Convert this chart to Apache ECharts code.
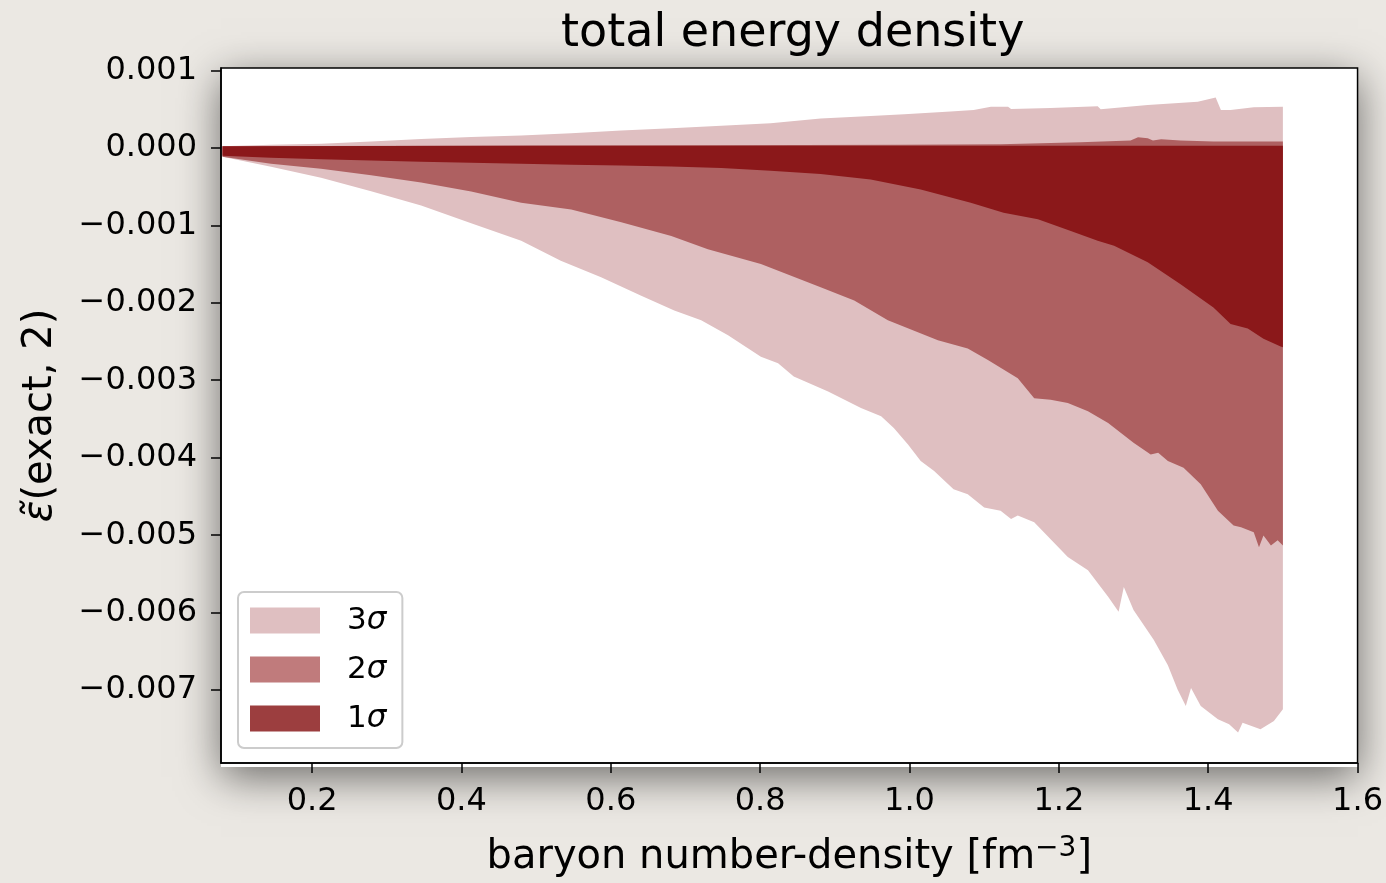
<!DOCTYPE html>
<html>
<head>
<meta charset="utf-8">
<title>total energy density</title>
<script src="https://cdn.jsdelivr.net/npm/echarts@6.0.0/dist/echarts.min.js"></script>
<style>
  html, body { margin: 0; padding: 0; background: #ebe8e3; }
  #myChart { width: 1386px; height: 883px; }
</style>
</head>
<body>
<div id="myChart"></div>
<script>
// tick labels
const xTicks = [0.2, 0.4, 0.6, 0.8, 1.0, 1.2, 1.4, 1.6]
const yTicks = [-0.007, -0.006, -0.005, -0.004, -0.003, -0.002, -0.001, 0.000, 0.001]

// band names
const bandNames = ['3σ', '2σ', '1σ']

// 3 sigma band edges [density, value]
const upper3 = [
  [0.08, 0.00002], [0.145, 0.000038], [0.212, 0.000051], [0.279, 0.000081],
  [0.346, 0.000115], [0.413, 0.000141], [0.48, 0.00016], [0.547, 0.000188],
  [0.614, 0.000224], [0.681, 0.000253], [0.748, 0.000286], [0.814, 0.000317],
  [0.881, 0.000378], [0.948, 0.00041], [0.993, 0.000432], [1.055, 0.000468],
  [1.086, 0.000487], [1.109, 0.00053], [1.132, 0.00053], [1.136, 0.0005],
  [1.189, 0.000513], [1.252, 0.000535], [1.256, 0.000496], [1.319, 0.000551],
  [1.386, 0.000594], [1.41, 0.00065], [1.417, 0.000487], [1.43, 0.000487],
  [1.461, 0.000522], [1.5, 0.00053]
]
const lower3 = [
  [0.08, -0.000115], [0.145, -0.000244], [0.212, -0.000385], [0.279, -0.00056],
  [0.346, -0.000744], [0.413, -0.000974], [0.48, -0.001201], [0.533, -0.001458],
  [0.587, -0.001671], [0.64, -0.001906], [0.685, -0.002099], [0.721, -0.002227],
  [0.757, -0.002419], [0.801, -0.002696], [0.824, -0.002782], [0.845, -0.002953],
  [0.891, -0.003145], [0.935, -0.003359], [0.962, -0.003465], [0.979, -0.003615],
  [0.998, -0.00383], [1.015, -0.004042], [1.033, -0.004171], [1.059, -0.004406],
  [1.078, -0.004471], [1.1, -0.004641], [1.122, -0.004683], [1.136, -0.004791],
  [1.145, -0.004747], [1.167, -0.004833], [1.212, -0.005282], [1.239, -0.005453],
  [1.266, -0.005795], [1.28, -0.005987], [1.287, -0.005667], [1.3, -0.005966],
  [1.327, -0.00635], [1.346, -0.00668], [1.359, -0.006991], [1.37, -0.007205],
  [1.377, -0.006971], [1.39, -0.007205], [1.413, -0.007376], [1.428, -0.00744],
  [1.44, -0.007547], [1.446, -0.007419], [1.47, -0.007504], [1.488, -0.007397],
  [1.5, -0.007247]
]

// 2 sigma band edges
const upper2 = [
  [0.08, 0.00002], [0.346, 0.000026], [0.721, 0.000032], [0.988, 0.000038],
  [1.122, 0.000045], [1.229, 0.000073], [1.296, 0.000094], [1.306, 0.000137],
  [1.319, 0.000124], [1.326, 0.000094], [1.337, 0.000112], [1.363, 0.000094],
  [1.407, 0.000081], [1.5, 0.000081]
]
const lower2 = [
  [0.08, -0.000115], [0.145, -0.000205], [0.212, -0.000269], [0.279, -0.000355],
  [0.346, -0.000449], [0.413, -0.000564], [0.48, -0.000709], [0.547, -0.000795],
  [0.614, -0.000962], [0.681, -0.001137], [0.73, -0.001308], [0.801, -0.0015],
  [0.881, -0.001799], [0.926, -0.001971], [0.971, -0.002227], [1.038, -0.002483],
  [1.078, -0.00259], [1.105, -0.00274], [1.145, -0.002974], [1.167, -0.003231],
  [1.189, -0.003253], [1.212, -0.003295], [1.239, -0.003401], [1.266, -0.003551],
  [1.3, -0.003808], [1.323, -0.003958], [1.333, -0.003936], [1.346, -0.004042],
  [1.367, -0.004128], [1.39, -0.004342], [1.413, -0.004683], [1.434, -0.004876],
  [1.444, -0.004897], [1.461, -0.004962], [1.468, -0.005154], [1.474, -0.005004],
  [1.484, -0.005132], [1.493, -0.005064], [1.5, -0.005132]
]

// 1 sigma band edges
const upper1 = [[0.08, 0.00002], [0.5, 0.000026], [1.5, 0.000026]]
const lower1 = [
  [0.08, -0.000103], [0.145, -0.000128], [0.212, -0.000147], [0.279, -0.000163],
  [0.346, -0.00018], [0.413, -0.000192], [0.48, -0.000205], [0.547, -0.000218],
  [0.614, -0.000227], [0.681, -0.00024], [0.748, -0.00026], [0.814, -0.000295],
  [0.881, -0.000337], [0.948, -0.00041], [1.015, -0.000538], [1.082, -0.000709],
  [1.126, -0.000837], [1.172, -0.000923], [1.216, -0.001073], [1.252, -0.001201],
  [1.274, -0.001265], [1.319, -0.001478], [1.363, -0.00176], [1.407, -0.00206],
  [1.43, -0.002273], [1.453, -0.002333], [1.474, -0.002465], [1.497, -0.002564],
  [1.5, -0.002573]
]

const fillColors = ['#dfbfc1', '#ae6061', '#8b181a']
const legendColors = ['#dfbfc1', '#c07b7c', '#9c3e3f']
const font = 'DejaVu Sans'

// fill_between as a polygon through the axis scales
function bandSeries(name, upper, lower, color) {
  const outline = upper.concat(lower.slice().reverse())
  return {
    name: name,
    type: 'custom',
    coordinateSystem: 'cartesian2d',
    silent: true,
    itemStyle: { color: color },
    data: [upper[0]],
    renderItem: function(params, api) {
      return {
        type: 'polygon',
        shape: { points: outline.map(function(p) { return api.coord(p) }) },
        style: { fill: color, stroke: null }
      }
    }
  }
}

const myChart = echarts.init(document.getElementById('myChart'))
const option = {
  backgroundColor: '#ebe8e3',
  animation: false,
  title: {
    text: 'total energy density',
    left: 556,
    top: 6,
    textStyle: { fontFamily: font, fontSize: 46, fontWeight: 'normal', color: '#000' }
  },
  // white axes panel with a soft drop shadow behind the grid
  graphic: [{
    type: 'rect',
    left: 221,
    top: 68,
    z: -10,
    silent: true,
    shape: { width: 1137, height: 699 },
    style: {
      fill: '#fff',
      shadowBlur: 40,
      shadowColor: 'rgba(0,0,0,0.55)',
      shadowOffsetY: 10
    }
  }],
  grid: {
    left: 221,
    right: 28,
    top: 68,
    bottom: 116,
    containLabel: false,
    show: true,
    backgroundColor: 'transparent',
    borderColor: '#000',
    borderWidth: 1.5
  },
  legend: {
    orient: 'vertical',
    left: 238,
    top: 592,
    icon: 'rect',
    itemWidth: 70,
    itemHeight: 26,
    itemGap: 18,
    padding: [13, 16, 14, 12],
    backgroundColor: '#fff',
    borderColor: '#cccccc',
    borderWidth: 2,
    borderRadius: 6,
    selectedMode: false,
    data: bandNames.map(function(n, i) {
      return { name: n, itemStyle: { color: legendColors[i] } }
    }),
    formatter: function(n) { return n.charAt(0) + '{s|σ}' },
    textStyle: {
      fontFamily: font,
      fontSize: 31,
      color: '#000',
      padding: [0, 0, 0, 22],
      rich: { s: { fontFamily: font, fontSize: 31, fontStyle: 'italic', color: '#000' } }
    }
  },
  xAxis: {
    type: 'value',
    min: 0.078,
    max: 1.6,
    name: 'baryon number-density [fm{sup|−3}]',
    nameLocation: 'middle',
    nameGap: 72,
    nameTextStyle: {
      fontFamily: font, fontSize: 40, color: '#000',
      rich: { sup: { fontFamily: font, fontSize: 28, color: '#000', padding: [0, 0, 18, 0] } }
    },
    splitLine: { show: false },
    axisLine: { show: true, onZero: false, lineStyle: { color: '#000', width: 1.5 } },
    axisTick: { show: true, length: 10, customValues: xTicks, lineStyle: { color: '#000', width: 1.5 } },
    axisLabel: {
      customValues: xTicks,
      margin: 23,
      fontFamily: font,
      fontSize: 32,
      color: '#000',
      formatter: function(v) { return v.toFixed(1) }
    }
  },
  yAxis: {
    type: 'value',
    min: -0.00794,
    max: 0.00103,
    name: '{e|ε̃}(exact, 2)',
    nameLocation: 'middle',
    nameRotate: 90,
    nameGap: 160,
    nameTextStyle: {
      fontFamily: font, fontSize: 40, color: '#000',
      rich: { e: { fontFamily: font, fontSize: 40, fontStyle: 'italic', color: '#000' } }
    },
    splitLine: { show: false },
    axisLine: { show: true, onZero: false, lineStyle: { color: '#000', width: 1.5 } },
    axisTick: { show: true, length: 10, customValues: yTicks, lineStyle: { color: '#000', width: 1.5 } },
    axisLabel: {
      customValues: yTicks,
      margin: 24,
      fontFamily: font,
      fontSize: 32,
      color: '#000',
      formatter: function(v) {
        return (v < -1e-9 ? '−' : '') + Math.abs(v).toFixed(3)
      }
    }
  },
  series: [
    bandSeries(bandNames[0], upper3, lower3, fillColors[0]),
    bandSeries(bandNames[1], upper2, lower2, fillColors[1]),
    bandSeries(bandNames[2], upper1, lower1, fillColors[2])
  ]
}
myChart.setOption(option)
</script>
</body>
</html>
